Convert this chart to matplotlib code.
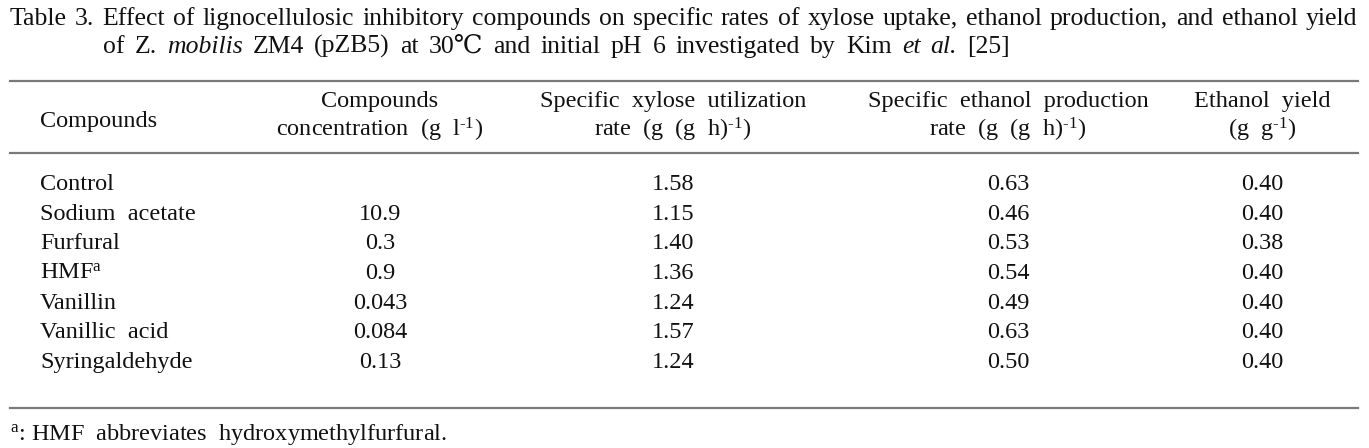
import matplotlib
matplotlib.use("Agg")
import matplotlib.pyplot as plt
from matplotlib.lines import Line2D

# table content
title_1 = ("Table 3. Effect of lignocellulosic inhibitory compounds on specific rates "
           "of xylose uptake, ethanol production, and ethanol yield")
title_2 = [("of", False), ("Z.", False), ("mobilis", True), ("ZM4", False), ("(pZB5)", False),
           ("at", False), ("30\u2103", False), ("and", False), ("initial", False), ("pH", False),
           ("6", False), ("investigated", False), ("by", False), ("Kim", False), ("et", True),
           ("al.", True), ("[25]", False)]
headers = [["Compounds"],
           ["Compounds", "concentration  (g  l$^{\\mathrm{\u20101}}$)"],
           ["Specific  xylose  utilization", "rate  (g  (g  h)$^{\\mathrm{\u20101}}$)"],
           ["Specific  ethanol  production", "rate  (g  (g  h)$^{\\mathrm{\u20101}}$)"],
           ["Ethanol  yield", "(g  g$^{\\mathrm{\u20101}}$)"]]
compounds = ["Control", "Sodium  acetate", "Furfural", r"HMF$^{\mathrm{a}}$", "Vanillin",
             "Vanillic  acid", "Syringaldehyde"]
concentration = ["", "10.9", "0.3", "0.9", "0.043", "0.084", "0.13"]
xylose_rate = [1.58, 1.15, 1.40, 1.36, 1.24, 1.57, 1.24]
ethanol_rate = [0.63, 0.46, 0.53, 0.54, 0.49, 0.63, 0.50]
ethanol_yield = [0.40, 0.40, 0.38, 0.40, 0.40, 0.40, 0.40]
footnote = r"$^{\mathrm{a}}$: HMF  abbreviates  hydroxymethylfurfural."

W, H = 1369, 448
FS = 17.5
FS_TITLE = 18.5
FAM = ["Liberation Serif", "DejaVu Serif"]
plt.rcParams["font.family"] = FAM
plt.rcParams["mathtext.fontset"] = "custom"
plt.rcParams["mathtext.rm"] = "Liberation Serif"
plt.rcParams["mathtext.it"] = "Liberation Serif:italic"

fig = plt.figure(figsize=(W / 100, H / 100), dpi=100)
fig.patch.set_facecolor("white")
renderer = fig.canvas.get_renderer()


def put(x, y, s, ha="left", style="normal", size=FS):
    return fig.text(x / W, 1 - y / H, s, ha=ha, va="baseline", fontsize=size,
                    style=style, color="#111111")


def justify(words, x0, x1, y):
    # draw words spread evenly between x0 and x1, return word start positions
    arts = [put(0, y, w, style="italic" if it else "normal", size=FS_TITLE) for w, it in words]
    widths = [a.get_window_extent(renderer).width for a in arts]
    gap = (x1 - x0 - sum(widths)) / (len(arts) - 1)
    x = x0
    starts = []
    for a, w in zip(arts, widths):
        a.set_x(x / W)
        starts.append(x)
        x += w + gap
    return starts


def hrule(y, x0=10, x1=1358):
    fig.add_artist(Line2D([x0 / W, x1 / W], [1 - y / H, 1 - y / H], color="#7a7a7a", lw=1.6))


pos = justify([(w, False) for w in title_1.split()], 10, 1357, 25)
# second line hangs under "Effect"
justify(title_2, pos[2], 1010, 53)

hrule(81)
hrule(153)
hrule(408)

col_x = [40, 380, 673, 1008, 1262]
put(col_x[0], 127, headers[0][0])
for cx, lines in zip(col_x[1:], headers[1:]):
    put(cx, 107, lines[0], ha="center")
    put(cx, 137, lines[1], ha="center")

row_y = [190 + i * 29.7 for i in range(len(compounds))]
for i, y in enumerate(row_y):
    put(col_x[0], y, compounds[i])
    put(col_x[1], y, concentration[i], ha="center")
    put(col_x[2], y, f"{xylose_rate[i]:.2f}", ha="center")
    put(col_x[3], y, f"{ethanol_rate[i]:.2f}", ha="center")
    put(col_x[4], y, f"{ethanol_yield[i]:.2f}", ha="center")

put(10, 440, footnote)

fig.savefig("out.png", dpi=100, facecolor="white")
